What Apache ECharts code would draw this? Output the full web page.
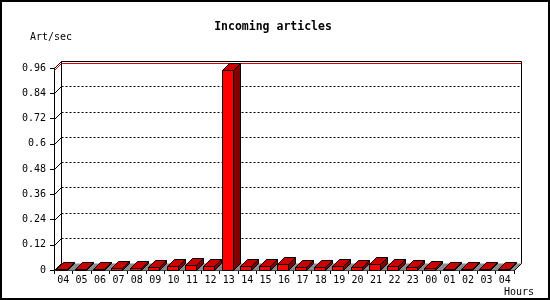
<!DOCTYPE html>
<html>
<head>
<meta charset="utf-8">
<style>html,body{margin:0;padding:0;background:#fff}#c{width:550px;height:300px}</style>
<script src="https://cdn.jsdelivr.net/npm/echarts@6/dist/echarts.min.js"></script>
</head>
<body>
<div id="c"></div>
<script>
const hours = ['04','05','06','07','08','09','10','11','12','13','14','15','16','17','18','19','20','21','22','23','00','01','02','03','04'];
const artPerSec = [0.003,0.003,0.003,0.009,0.009,0.013,0.018,0.022,0.018,0.95,0.018,0.018,0.027,0.013,0.013,0.018,0.013,0.027,0.018,0.013,0.009,0.003,0.003,0.003,0.003];
const yMax = 0.96;
const yStep = 0.12;
const titleText = 'Incoming articles';
const yName = 'Art/sec';
const xName = 'Hours';

const D = 7; // 3D depth in px
const FONT = 'DejaVu Sans Mono';
const cr = v => Math.round(v) + 0.5;

const chart = echarts.init(document.getElementById('c'), null, {renderer: 'canvas'});

function renderBack(params, api) {
  const cs = params.coordSys;
  const x0 = cr(cs.x), x1 = cr(cs.x + cs.width);
  const yb = cr(api.coord([0, 0])[1]);
  const yt = cr(api.coord([0, yMax])[1]);
  const children = [];
  // floor
  children.push({type: 'polygon', shape: {points: [[x0, yb], [x1, yb], [x1 + D, yb - D], [x0 + D, yb - D]]},
    style: {fill: '#8c8c8c', stroke: null}});
  // grid lines
  const maxV = Math.max.apply(null, artPerSec);
  for (let k = 1; k * yStep < yMax - 1e-9; k++) {
    const y = cr(api.coord([0, k * yStep])[1]);
    children.push({type: 'line', shape: {x1: x0 + D, y1: y - D, x2: x1 + D, y2: y - D},
      style: {stroke: '#000', lineWidth: 1, lineDash: [2, 2]}});
    children.push({type: 'line', shape: {x1: x0, y1: y, x2: x0 + D, y2: y - D},
      style: {stroke: '#000', lineWidth: 1}});
  }
  // max line (red)
  const ym = cr(api.coord([0, maxV])[1]);
  children.push({type: 'line', shape: {x1: x0 + D, y1: ym - D, x2: x1 + D, y2: ym - D}, style: {stroke: '#e00000', lineWidth: 1}});
  children.push({type: 'line', shape: {x1: x0, y1: ym, x2: x0 + D, y2: ym - D}, style: {stroke: '#e00000', lineWidth: 1}});
  // wall outline
  children.push({type: 'polyline', shape: {points: [[x0 + D, yb - D], [x0 + D, yt - D], [x1 + D, yt - D], [x1 + D, yb - D], [x1, yb]]},
    style: {stroke: '#000', lineWidth: 1, fill: null}});
  children.push({type: 'line', shape: {x1: x0, y1: yt, x2: x0 + D, y2: yt - D}, style: {stroke: '#000', lineWidth: 1}});
  children.push({type: 'line', shape: {x1: x0, y1: yb, x2: x0 + D, y2: yb - D}, style: {stroke: '#000', lineWidth: 1}});
  return {type: 'group', children};
}

function renderBar(params, api) {
  const i = api.value(0), v = api.value(1);
  const p0 = api.coord([i, 0]);
  const p1 = api.coord([i, v]);
  const l = cr(p0[0] - 7), r = cr(p0[0] + 4);
  const yb = cr(p0[1]), yv = cr(p1[1]);
  const s = {stroke: '#000', lineWidth: 1};
  return {type: 'group', children: [
    {type: 'polygon', shape: {points: [[r, yb], [r, yv], [r + D, yv - D], [r + D, yb - D]]}, style: Object.assign({fill: '#800000'}, s)},
    {type: 'polygon', shape: {points: [[l, yv], [r, yv], [r + D, yv - D], [l + D, yv - D]]}, style: Object.assign({fill: '#c80000'}, s)},
    {type: 'polygon', shape: {points: [[l, yb], [r, yb], [r, yv], [l, yv]]}, style: Object.assign({fill: '#ff0000'}, s)}
  ]};
}

chart.setOption({
  animation: false,
  backgroundColor: '#fff',
  grid: {left: 54, top: 68, width: 460, height: 202, containLabel: false},
  xAxis: {
    type: 'category', data: hours, boundaryGap: true,
    axisLine: {show: true, lineStyle: {color: '#000', width: 1}},
    axisTick: {show: true, length: 4, lineStyle: {color: '#000'}, interval: 0},
    axisLabel: {interval: 0, margin: 5, color: '#000', fontFamily: FONT, fontSize: 10},
    splitLine: {show: false}
  },
  yAxis: {
    type: 'value', min: 0, max: yMax, interval: yStep,
    axisLine: {show: true, lineStyle: {color: '#000', width: 1}},
    axisTick: {show: true, length: 4, lineStyle: {color: '#000'}},
    axisLabel: {margin: 8, color: '#000', fontFamily: FONT, fontSize: 10},
    splitLine: {show: false}
  },
  graphic: [
    {type: 'rect', shape: {x: 1, y: 1, width: 548, height: 298}, style: {fill: null, stroke: '#000', lineWidth: 2}, z: 100},
    {type: 'text', x: 273, y: 27, style: {text: titleText, font: 'bold 11.5px "DejaVu Sans Mono"', fill: '#000', align: 'center', verticalAlign: 'middle'}},
    {type: 'text', x: 30, y: 37, style: {text: yName, font: '10px "DejaVu Sans Mono"', fill: '#000', align: 'left', verticalAlign: 'middle'}},
    {type: 'text', x: 504, y: 292, style: {text: xName, font: '10px "DejaVu Sans Mono"', fill: '#000', align: 'left', verticalAlign: 'middle'}}
  ],
  series: [
    {type: 'custom', renderItem: renderBack, data: [[0, 0]], z: 1, silent: true, clip: false},
    {type: 'custom', renderItem: renderBar, data: artPerSec.map((v, i) => [i, v]), z: 2, silent: true, clip: false}
  ]
});
</script>
</body>
</html>
